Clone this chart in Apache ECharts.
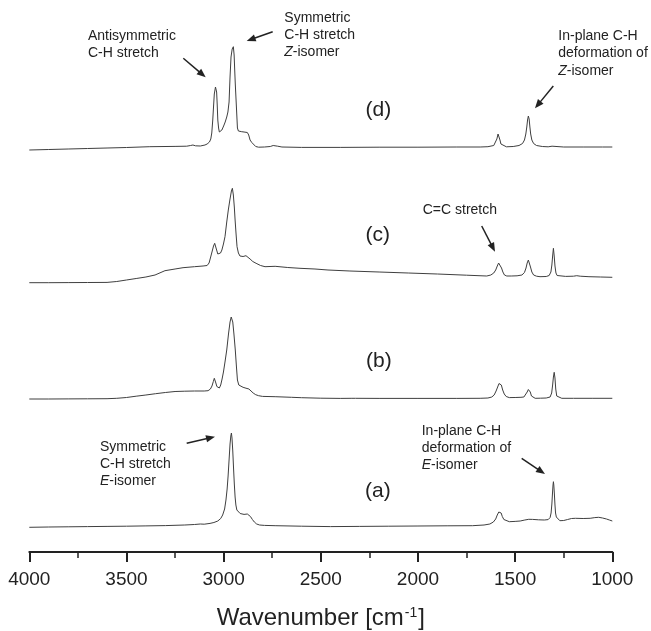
<!DOCTYPE html>
<html>
<head>
<meta charset="utf-8">
<script src="https://cdn.jsdelivr.net/npm/echarts@6/dist/echarts.min.js"></script>
<style>
  html, body { margin: 0; padding: 0; background: #fff; }
  #chart { width: 651px; height: 631px; }
</style>
</head>
<body>
<div id="chart"></div>
<script>
// Raman spectra (a)-(d), stacked with a vertical offset for display.
// Each point: [wavenumber (cm-1), offset intensity (a.u.)]
const spectrumA = [
  [4000,24.7],[3900,25.0],[3800,25.2],[3700,25.4],[3600,25.6],[3500,25.8],[3400,26.1],[3300,26.4],
  [3200,27.0],[3150,27.5],[3120,28.0],[3100,27.8],[3070,28.6],[3050,29.5],[3030,31.0],[3015,33.5],
  [3005,37],[2995,43],[2988,52],[2982,63],[2977,76],[2972,92],[2967,108],[2963,116],[2960,119],
  [2957,114],[2953,101],[2949,84],[2945,68],[2941,55],[2937,47],[2932,42],[2925,40],[2915,38.5],
  [2905,37.8],[2895,37.6],[2885,38.2],[2878,38],[2870,37],[2862,35.5],[2852,32.5],[2842,30],
  [2830,28],[2815,27],[2790,26.6],[2735,26.3],[2600,25.8],[2450,25.4],[2300,25.6],[2150,25.8],
  [2000,26],[1850,26.2],[1720,26.3],[1660,27],[1630,28],[1612,30],[1600,33],[1592,37],[1584,40],
  [1578,40.5],[1572,39],[1566,35.5],[1558,32.5],[1548,31],[1530,30.3],[1500,30.6],[1474,31],
  [1450,32],[1430,32.7],[1410,32.6],[1380,32.2],[1350,32],[1330,32.4],[1320,34.5],[1315,39],
  [1311,48],[1308,58],[1305,67],[1303,70.3],[1301,67],[1298,58],[1295,47],[1292,39],[1288,35],
  [1282,33],[1270,31.3],[1250,31.5],[1230,32.5],[1210,33.5],[1190,33.7],[1150,33.5],[1114,33.7],
  [1090,34.4],[1070,34.7],[1050,34],[1030,33],[1015,32],[1000,31]
];

const spectrumB = [
  [4000,153],[3900,153],[3800,153.1],[3700,153.2],[3600,153.3],[3550,153.7],[3500,154.5],
  [3450,155.8],[3400,157],[3350,158.3],[3300,159.5],[3250,160.5],[3200,160.8],[3150,161],
  [3100,161],[3080,161.3],[3068,163],[3060,166],[3053,170.5],[3048,173.7],[3044,173],[3040,169],
  [3035,165.5],[3028,163.7],[3022,164],[3015,167],[3008,173],[3001,180],[2993,190],[2984,202],
  [2975,218],[2967,230],[2961,235],[2957,235.3],[2953,230],[2947,218],[2940,202],[2934,185],
  [2929,172],[2922,167],[2912,165.5],[2900,164.7],[2885,163.8],[2870,163],[2860,161.5],
  [2848,159],[2835,157.3],[2820,156.3],[2800,155.6],[2735,155.3],[2650,154.7],[2600,154.3],
  [2500,153.8],[2400,153.6],[2340,153.7],[2330,155.3],[2322,153.7],[2200,153.6],[2000,153.6],
  [1800,153.6],[1680,153.7],[1640,154],[1620,155],[1608,157],[1598,161],[1590,165],[1583,168.5],
  [1577,169.3],[1571,167],[1564,162],[1556,158],[1546,155.5],[1530,154.4],[1500,154.5],
  [1470,154.7],[1455,155],[1445,157],[1438,160],[1432,162.5],[1427,163],[1422,160],[1416,156],
  [1408,154.3],[1397,153.7],[1370,153.8],[1340,154],[1320,155],[1312,159],[1307,167],[1303,175],
  [1299,179.7],[1295,174],[1291,163],[1286,156],[1280,154],[1260,153.7],[1200,153.7],
  [1100,153.7],[1000,153.7]
];

const spectrumC = [
  [4000,269.3],[3900,269.3],[3800,269.4],[3700,269.5],[3600,269.6],[3550,270.5],[3500,272],
  [3450,273.5],[3400,275],[3353,277],[3302,281.3],[3250,283],[3209,284.3],[3150,285.3],
  [3106,286],[3085,286.5],[3075,289],[3068,294],[3060,300],[3052,306],[3046,308.7],[3041,307],
  [3036,302],[3030,298],[3024,296.3],[3016,299],[3009,302],[3001,308],[2993,315.3],[2984,330],
  [2976,342],[2968,352],[2960,361],[2955,363.7],[2950,357],[2945,345],[2941,332],[2936,318],
  [2931,305.3],[2924,299],[2916,296],[2900,295.5],[2885,296.3],[2875,294.5],[2864,293],
  [2850,290.5],[2833,288.7],[2810,286.5],[2787,285.3],[2735,285.7],[2670,284.5],[2607,283.7],
  [2530,283],[2463,282],[2350,281],[2200,280],[2050,279],[1900,278],[1750,276.8],[1646,276],
  [1625,277],[1610,279],[1600,282],[1592,286],[1585,289],[1581,289.7],[1576,288],[1570,284],
  [1563,280],[1555,277],[1543,276],[1520,276],[1490,276.2],[1465,277],[1452,279.5],[1444,284],
  [1438,289],[1432,292],[1427,290],[1421,285],[1414,280],[1405,277],[1390,275.8],[1372,275.3],
  [1340,275.5],[1325,276.5],[1316,280],[1311,287],[1307,296],[1303,303.7],[1299,296],[1295,286],
  [1290,279],[1284,276.5],[1277,275.3],[1240,275.6],[1200,275.8],[1183,276.3],[1165,275.8],
  [1120,275.3],[1060,275],[1000,274.7]
];

const spectrumD = [
  [4000,402],[3900,402.5],[3800,403],[3700,403.5],[3600,404],[3500,404.5],[3380,405.3],
  [3250,405.6],[3190,405.8],[3170,406.5],[3158,407],[3145,406.2],[3120,406],[3096,407],
  [3085,408],[3073,410],[3066,413],[3061,419],[3056,432],[3053,442],[3048,458],[3042,465],
  [3039,466],[3036,460],[3033,447],[3030,432],[3026,424],[3022,420],[3016,420],[3009,422],
  [3000,426],[2992,430],[2984,435],[2978,440],[2972,450],[2967,475],[2962,495],[2956,503],
  [2950,505.3],[2946,497],[2943,482],[2940,468],[2936,452],[2932,436],[2929,424],[2924,421],
  [2915,420.5],[2907,420.3],[2895,420],[2885,419],[2878,419.5],[2871,417],[2864,412],
  [2855,409.5],[2847,408],[2835,405.5],[2820,404.8],[2790,405],[2760,405.5],[2745,406.5],
  [2735,407],[2722,405.8],[2700,405],[2600,404.6],[2400,404.6],[2200,404.8],[2000,404.8],
  [1800,405],[1680,405],[1640,405.3],[1610,406.5],[1600,408.5],[1594,413],[1588,418],
  [1586,418.7],[1582,417],[1578,412],[1573,408],[1565,406],[1545,405.2],[1510,405.5],
  [1480,406.5],[1462,408.5],[1452,412],[1445,418],[1440,425],[1436,432],[1432,436],[1428,433],
  [1424,425],[1420,418],[1414,412],[1405,408.5],[1390,406.5],[1360,405.5],[1330,405.2],
  [1310,405.8],[1305,406.5],[1300,405.5],[1250,405],[1150,405],[1050,405],[1000,405]
];

const spectrumNames = ['(a)', '(b)', '(c)', '(d)'];
const xTicks = [4000, 3500, 3000, 2500, 2000, 1500, 1000];

const FONT = '"Liberation Sans", Arial, Helvetica, sans-serif';
const INK = '#222';
const LINE = '#3f3f3f';

function arrow(x1, y1, x2, y2) {
  const dx = x2 - x1, dy = y2 - y1;
  const len = Math.sqrt(dx * dx + dy * dy);
  const ux = dx / len, uy = dy / len;
  const headLen = 9, headHalf = 3.6;
  const bx = x2 - ux * headLen, by = y2 - uy * headLen;
  return {
    type: 'group',
    children: [
      { type: 'line', shape: { x1: x1, y1: y1, x2: bx + ux * 1, y2: by + uy * 1 },
        style: { stroke: INK, lineWidth: 1.5 } },
      { type: 'polygon',
        shape: { points: [[x2, y2], [bx - uy * headHalf, by + ux * headHalf], [bx + uy * headHalf, by - ux * headHalf]] },
        style: { fill: INK } }
    ]
  };
}

function note(text, left, top, lh) {
  return {
    type: 'text', x: left, y: top,
    style: {
      text: text, fill: INK, fontSize: 14, fontFamily: FONT, lineHeight: lh,
      verticalAlign: 'top', align: 'left',
      rich: {
        n: { fontSize: 14, fontFamily: FONT, lineHeight: lh, fill: INK },
        i: { fontSize: 14, fontFamily: FONT, lineHeight: lh, fill: INK, fontStyle: 'italic' }
      }
    }
  };
}

function tag(text, left, cy) {
  return {
    type: 'text', x: left, y: cy,
    style: { text: text, fill: INK, fontSize: 21, fontFamily: FONT, verticalAlign: 'middle', align: 'left' }
  };
}

const chart = echarts.init(document.getElementById('chart'), null, { renderer: 'canvas' });

const spectra = [spectrumA, spectrumB, spectrumC, spectrumD];

chart.setOption({
  animation: false,
  backgroundColor: '#fff',
  grid: { left: 29.3, right: 38.7, top: 42, bottom: 79, containLabel: false, outerBoundsMode: 'none' },
  xAxis: {
    type: 'value', min: 1000, max: 4000, interval: 500, inverse: true,
    axisLine: { show: true, onZero: false, lineStyle: { color: INK, width: 2 } },
    axisTick: { show: true, inside: false, length: 10, lineStyle: { color: INK, width: 2 } },
    minorTick: { show: true, splitNumber: 2, length: 6, lineStyle: { color: INK, width: 1.5 } },
    splitLine: { show: false },
    axisLabel: {
      color: INK, fontSize: 19, fontFamily: FONT, margin: 18,
      formatter: function (v) { return xTicks.indexOf(v) >= 0 ? String(v) : ''; }
    },
    name: 'Wavenumber [cm{sup|-1}]',
    nameLocation: 'middle', nameGap: 54,
    nameTextStyle: {
      color: INK, fontSize: 24, fontFamily: FONT,
      rich: { sup: { fontSize: 14, fontFamily: FONT, color: INK, verticalAlign: 'top', padding: [0, 1, 8, 1] } }
    }
  },
  yAxis: { type: 'value', min: 0, max: 510, show: false },
  series: spectra.map(function (d, k) {
    return {
      name: spectrumNames[k], type: 'line', data: d,
      showSymbol: false, symbol: 'none', smooth: false, silent: true, clip: false,
      lineStyle: { color: LINE, width: 1 }
    };
  }),
  graphic: [
    note('Antisymmetric\nC-H stretch', 88, 27.5, 17),
    arrow(183.3, 58.3, 205.7, 77.3),
    note('Symmetric\nC-H stretch\n{i|Z}-isomer', 284.3, 9.8, 17),
    arrow(272.7, 31.7, 246.7, 41),
    note('In-plane C-H\ndeformation of\n{i|Z}-isomer', 558.3, 27.3, 17.5),
    arrow(553.3, 86, 535, 108.3),
    note('C=C stretch', 422.7, 201.5, 17),
    arrow(481.7, 226, 495, 251.7),
    note('Symmetric\nC-H stretch\n{i|E}-isomer', 100, 439, 16.7),
    arrow(186.7, 443.3, 215, 436.7),
    note('In-plane C-H\ndeformation of\n{i|E}-isomer', 421.7, 422.2, 17),
    arrow(521.7, 458.3, 545, 474),
    tag(spectrumNames[3], 365.5, 110),
    tag(spectrumNames[2], 365.5, 235),
    tag(spectrumNames[1], 366, 361.7),
    tag(spectrumNames[0], 365, 491.7)
  ]
});
</script>
</body>
</html>
